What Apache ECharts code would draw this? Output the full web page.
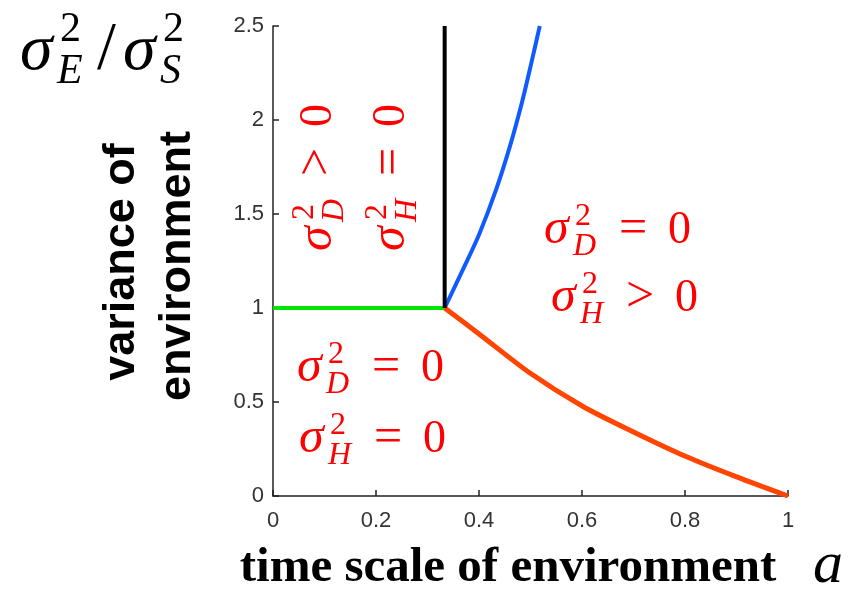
<!DOCTYPE html>
<html>
<head>
<meta charset="utf-8">
<script src="https://cdn.jsdelivr.net/npm/echarts@6/dist/echarts.min.js"></script>
<style>
  html, body { margin: 0; padding: 0; background: #fff; }
  #main { width: 853px; height: 591px; }
</style>
</head>
<body>
<div id="main"></div>
<script>
// boundary curves
const greenX = [0, 1 / 3]
const greenY = [1, 1]
const blackX = [1 / 3, 1 / 3]
const blackY = [1, 2.5]
const blueX = [0.3333, 0.368, 0.400, 0.432, 0.460, 0.484, 0.503, 0.518]
const blueY = [1.0, 1.2, 1.39, 1.62, 1.86, 2.1, 2.32, 2.5]
const redX = [0.3333, 0.402, 0.499, 0.602, 0.705, 0.802, 0.899, 1.0]
const redY = [1.0, 0.858, 0.654, 0.476, 0.334, 0.21, 0.103, 0.0]

const xTicks = [0, 0.2, 0.4, 0.6, 0.8, 1]
const yTicks = [0, 0.5, 1, 1.5, 2, 2.5]

const RED = '#ff0000'
const SERIF = '"Liberation Serif", "DejaVu Serif", serif'
const SANS = '"Liberation Sans", Arial, sans-serif'

function pairs (xs, ys) {
  return xs.map((x, i) => [x, ys[i]])
}

function txt (x, y, text, font, fill) {
  return {
    type: 'text', x: x, y: y,
    style: { text: text, font: font, fill: fill || RED, textAlign: 'left', textVerticalAlign: 'middle' }
  }
}

// sigma^2_sub rel 0, origin at start of baseline
function mathLabel (x, y, sub, rel, rot) {
  return {
    type: 'group', x: x, y: y, rotation: rot || 0,
    children: [
      txt(-1, -17, 'σ', 'italic 50px ' + SERIF),
      txt(30, -30, '2', '32px ' + SERIF),
      txt(28, 0, sub, 'italic 32px ' + SERIF),
      txt(74, -17, rel, '50px ' + SERIF),
      txt(123, -16, '0', '46px ' + SERIF)
    ]
  }
}

const chart = echarts.init(document.getElementById('main'))

const line = (name, xs, ys, color, w) => ({
  name: name,
  type: 'line',
  data: pairs(xs, ys),
  showSymbol: false,
  smooth: name === 'blue' || name === 'red' ? 0.3 : false,
  lineStyle: { color: color, width: w },
  itemStyle: { color: color },
  animation: false,
  z: name === 'black' ? 3 : 2
})

const option = {
  animation: false,
  grid: { left: 273, right: 65, top: 26, bottom: 95 },
  xAxis: {
    type: 'value', min: 0, max: 1, interval: 0.2,
    axisLine: { lineStyle: { color: '#222', width: 1.5 } },
    axisTick: { inside: true, length: 6, lineStyle: { color: '#222', width: 1.5 } },
    splitLine: { show: false },
    axisLabel: {
      margin: 14, fontSize: 22, color: '#333', fontFamily: SANS,
      formatter: v => xTicks.indexOf(v) >= 0 ? String(v) : ''
    }
  },
  yAxis: {
    type: 'value', min: 0, max: 2.5, interval: 0.5,
    axisLine: { show: true, lineStyle: { color: '#222', width: 1.5 } },
    axisTick: { show: true, inside: true, length: 6, lineStyle: { color: '#222', width: 1.5 } },
    splitLine: { show: false },
    axisLabel: {
      margin: 9, fontSize: 22, color: '#333', fontFamily: SANS,
      formatter: v => yTicks.indexOf(v) >= 0 ? String(v) : ''
    }
  },
  series: [
    line('green', greenX, greenY, '#00e600', 4),
    line('black', blackX, blackY, '#000000', 4),
    line('blue', blueX, blueY, '#0f5bff', 4),
    line('red', redX, redY, '#ff4500', 5)
  ],
  graphic: [
    // y axis symbol
    {
      type: 'group', x: 20, y: 0,
      children: [
        txt(0, 52, 'σ', 'italic 66px ' + SERIF, '#000'),
        txt(40, 30, '2', '42px ' + SERIF, '#000'),
        txt(37, 72, 'E', 'italic 42px ' + SERIF, '#000'),
        txt(77, 50, '/', '68px ' + SERIF, '#000'),
        txt(103, 52, 'σ', 'italic 66px ' + SERIF, '#000'),
        txt(143, 30, '2', '42px ' + SERIF, '#000'),
        txt(140, 72, 'S', 'italic 42px ' + SERIF, '#000')
      ]
    },
    // y axis name, two rotated lines
    {
      type: 'group', x: 122, y: 262, rotation: Math.PI / 2,
      children: [{
        type: 'text', x: 0, y: 0,
        style: { text: 'variance of', font: 'bold 45px ' + SANS, fill: '#000', textAlign: 'center', textVerticalAlign: 'middle' }
      }]
    },
    {
      type: 'group', x: 178, y: 266, rotation: Math.PI / 2,
      children: [{
        type: 'text', x: 0, y: 0,
        style: { text: 'environment', font: 'bold 45px ' + SANS, fill: '#000', textAlign: 'center', textVerticalAlign: 'middle' }
      }]
    },
    // x axis name
    {
      type: 'text', x: 508, y: 568,
      style: { text: 'time scale of environment', font: 'bold 49px ' + SERIF, fill: '#000', textAlign: 'center', textVerticalAlign: 'middle' }
    },
    txt(813, 566, 'a', 'italic 60px ' + SERIF, '#000'),
    // region labels
    mathLabel(335, 250, 'D', '>', Math.PI / 2),
    mathLabel(408, 250, 'H', '=', Math.PI / 2),
    mathLabel(545, 247, 'D', '='),
    mathLabel(552, 315, 'H', '>'),
    mathLabel(298, 385, 'D', '='),
    mathLabel(300, 456, 'H', '=')
  ]
}

chart.setOption(option)
</script>
</body>
</html>
